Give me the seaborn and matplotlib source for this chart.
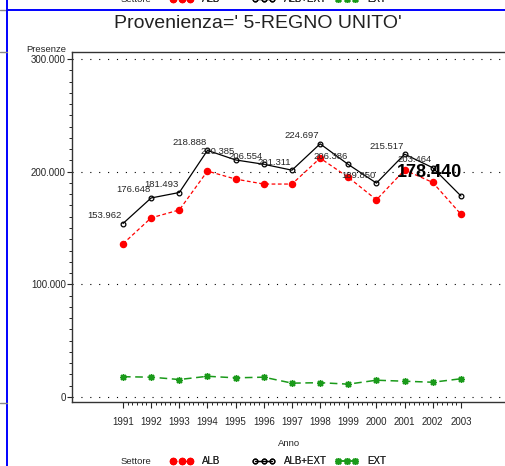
import numpy as np
import pandas as pd
import matplotlib
matplotlib.use("Agg")
import matplotlib.pyplot as plt
import matplotlib.ticker as mticker
from matplotlib.lines import Line2D
import seaborn as sns

# Dati (presenze)
anni = [1991, 1992, 1993, 1994, 1995, 1996, 1997, 1998, 1999, 2000, 2001, 2002, 2003]
alb = [135960, 159000, 166000, 200500, 193400, 189000, 189000, 212000, 195000, 175000, 201500, 190400, 162200]
alb_ext = [153962, 176648, 181493, 218888, 210385, 206554, 201311, 224697, 206386, 189850, 215517, 203464, 178440]
ext = [18000, 17600, 15500, 18400, 17000, 17600, 12300, 12700, 11400, 14900, 14000, 13100, 16200]
settori = ["ALB", "ALB+EXT", "EXT"]
titolo = "Provenienza=' 5-REGNO UNITO'"

df = pd.DataFrame({"Anno": anni * 3,
                   "Presenze": alb + alb_ext + ext,
                   "Settore": ["ALB"] * 13 + ["ALB+EXT"] * 13 + ["EXT"] * 13})

sns.set_style("ticks")
FONT = ["Liberation Sans", "DejaVu Sans"]
plt.rcParams["font.family"] = FONT

W, H = 506, 466
fig = plt.figure(figsize=(W / 100, H / 100), dpi=100)
ax = fig.add_axes([72 / W, (H - 402) / H, 1 - 72 / W, 350 / H])

stili = {
    "ALB": dict(color="#ff0000", marker="o", linestyle=(0, (3, 2)), lw=0.9, ms=4.4, mec="#ff0000", mfc="#ff0000"),
    "ALB+EXT": dict(color="black", marker="o", linestyle="-", lw=0.9, ms=3.4, mfc="none", mec="black", mew=0.9),
    "EXT": dict(color="#1a9a1a", marker=(8, 2, 0), linestyle=(0, (5, 3)), lw=1.1, ms=5, mew=1.0),
}
for s in settori:
    sub = df[df["Settore"] == s]
    st = stili[s]
    sns.lineplot(data=sub, x="Anno", y="Presenze", ax=ax, label=s, color=st["color"],
                 marker=st["marker"], linestyle=st["linestyle"], linewidth=st["lw"],
                 markersize=st["ms"], markerfacecolor=st.get("mfc", st["color"]),
                 markeredgecolor=st.get("mec", st["color"]), markeredgewidth=st.get("mew", 1.0))
ax.get_legend().remove()

# etichette ALB+EXT
def fmt(v):
    return f"{v:,}".replace(",", ".")

for i, (a, v) in enumerate(zip(anni, alb_ext)):
    if i == len(anni) - 1:
        ax.annotate(fmt(v), (a, v), xytext=(1, 23), textcoords="offset pixels",
                    ha="right", va="center", fontsize=13, fontweight="bold", family=FONT,
                    color="black")
    else:
        ax.annotate(fmt(v), (a, v), xytext=(-1, 8), textcoords="offset pixels",
                    ha="right", va="center", fontsize=6.8, family=FONT)

ax.set_xlim(1989.19, 2004.60)
ax.set_ylim(-4440, 306200)
ax.xaxis.set_major_locator(mticker.FixedLocator(anni))
minori = [a + k / 6 for a in anni[:-1] for k in range(1, 6)]
ax.xaxis.set_minor_locator(mticker.FixedLocator(minori))
ax.yaxis.set_major_locator(mticker.MultipleLocator(100000))
ax.yaxis.set_minor_locator(mticker.MultipleLocator(10000))
ax.yaxis.set_major_formatter(mticker.FuncFormatter(lambda v, p: "0" if v == 0 else fmt(int(v))))

ax.tick_params(axis="x", which="major", length=4.5, width=0.8, pad=6, labelsize=7, direction="out")
ax.tick_params(axis="x", which="minor", length=2.2, width=0.7, direction="out")
ax.tick_params(axis="y", which="major", length=3.6, width=0.8, pad=0.8, labelsize=7, direction="out")
ax.tick_params(axis="y", which="minor", length=2.0, width=0.7, direction="out")

ax.grid(axis="y", which="major", color="black", linestyle=(0, (1, 7)), linewidth=0.8)
ax.grid(axis="x", visible=False)
for sp in ["left", "bottom", "top"]:
    ax.spines[sp].set_color("#333333")
    ax.spines[sp].set_linewidth(1.0)
ax.spines["right"].set_visible(False)

ax.set_xlabel("Anno", fontsize=6.8, labelpad=9)
ax.set_ylabel("")
fig.text(46 / W, 1 - 49.5 / H, "Presenze", ha="center", va="center", fontsize=6.8)
fig.text(258 / W, 1 - 23 / H, titolo, ha="center", va="center", fontsize=14, color="#222222")

# legenda (in basso e ripetuta tagliata in alto)
def legenda(ypix):
    yf = 1 - ypix / H
    fig.text(136 / W, yf, "Settore", ha="center", va="center", fontsize=6.8)
    pos = {"ALB": 170, "ALB+EXT": 252, "EXT": 335}
    for h in ax.get_lines()[:3]:
        lab = h.get_label()
        leg = fig.legend(handles=[h], labels=[lab], loc="center left",
                         bbox_to_anchor=(pos[lab] / W, yf), frameon=False, numpoints=3,
                         handlelength=2.4, handletextpad=0.9, borderpad=0, borderaxespad=0,
                         fontsize=7)
        fig.add_artist(leg)

legenda(461)
legenda(-0.5)

# cornice blu della pagina
fig.add_artist(Line2D([0, 7 / W], [1 - 10 / H] * 2, transform=fig.transFigure, color="#888888", lw=1))
fig.add_artist(Line2D([7 / W, 1], [1 - 10 / H] * 2, transform=fig.transFigure, color="#0000ff", lw=1.4))
fig.add_artist(Line2D([7 / W] * 2, [0, 1], transform=fig.transFigure, color="#0000ff", lw=1.4))
fig.add_artist(Line2D([0, 7 / W], [1 - 52 / H] * 2, transform=fig.transFigure, color="#888888", lw=1))
fig.add_artist(Line2D([0, 7 / W], [1 - 403 / H] * 2, transform=fig.transFigure, color="#888888", lw=1))

fig.savefig("out.png", dpi=100)
